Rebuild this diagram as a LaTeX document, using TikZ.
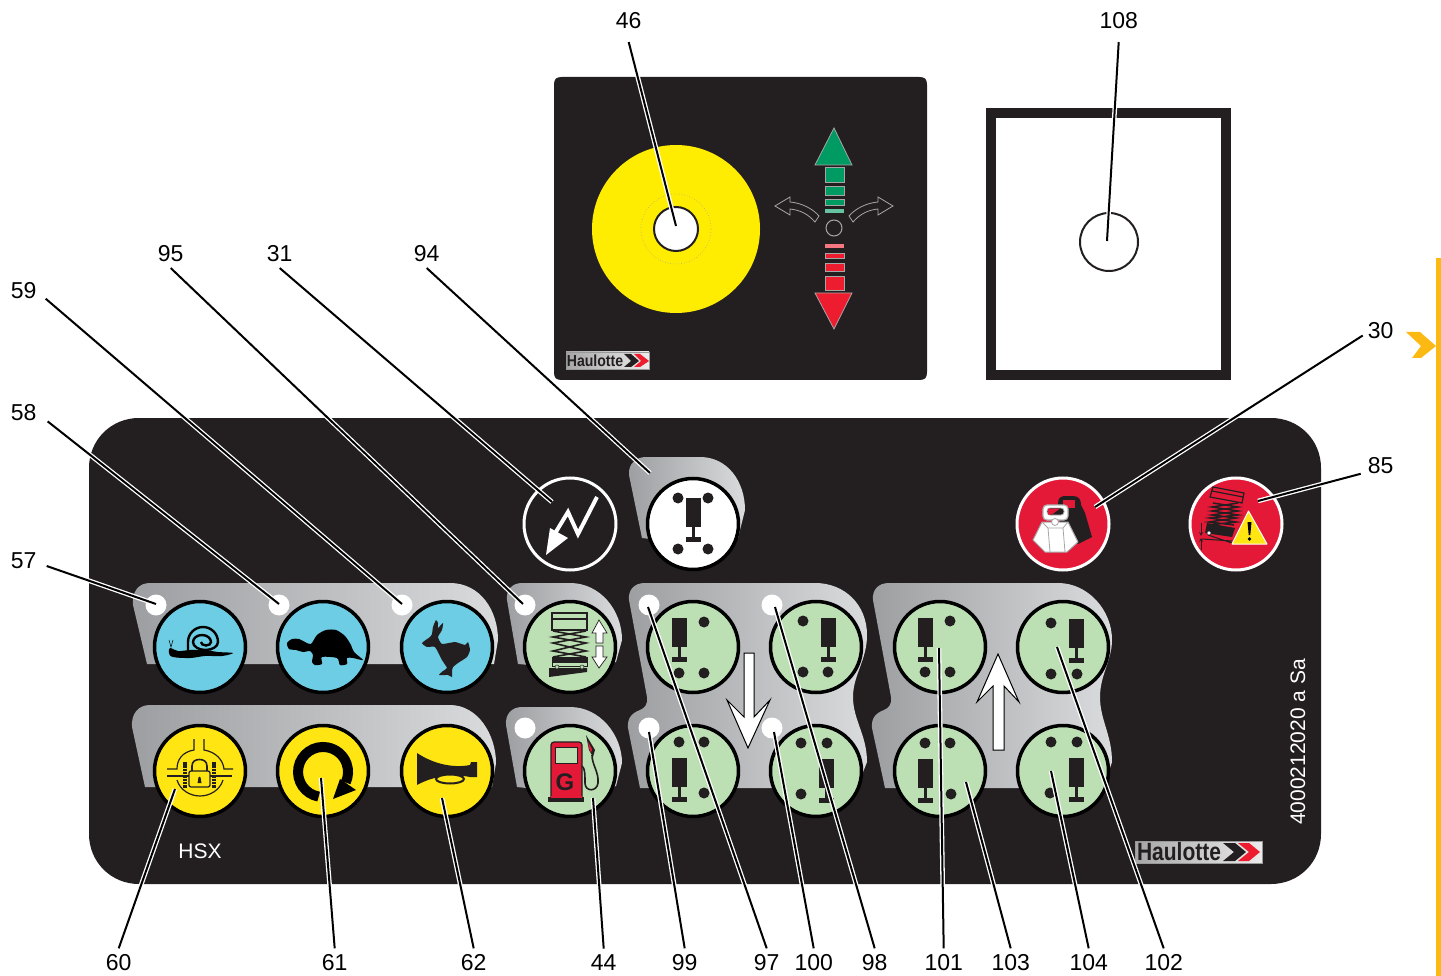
\documentclass[tikz,border=0pt]{standalone}
\usepackage{fontspec}
\setmainfont{Liberation Sans}
\definecolor{panelblack}{HTML}{231F20}
\definecolor{platelo}{HTML}{9C9EA1}
\definecolor{platehi}{HTML}{DADBDD}
\definecolor{skyblue}{HTML}{6DCDE4}
\definecolor{btnyellow}{HTML}{FFE512}
\definecolor{btngreen}{HTML}{BCDFB4}
\definecolor{btnred}{HTML}{E31937}
\definecolor{barorange}{HTML}{FDB913}
\definecolor{arrowgreen}{HTML}{009A63}
\definecolor{arrowred}{HTML}{ED1C2E}
\tikzset{
  num/.style={font=\fontsize{23}{23}\selectfont,inner sep=6pt},
  leader/.style={draw=white,line width=1.3pt,double=black,double distance=2pt},
  plate/.style={left color=platelo,right color=platehi,draw=none},
  btn/.style={circle,draw=black,line width=3.5pt,minimum size=91pt,inner sep=0pt},
  sign/.style={circle,draw=white,line width=3pt,minimum size=92pt,inner sep=0pt},
  led/.style={circle,fill=white,minimum size=21pt,inner sep=0pt},
  dot/.style={fill=panelblack},
  logo/.style={left color=gray!70,right color=gray!15,draw=gray!80!white,line width=.6pt},
  barbox/.style={draw=gray!70,line width=.8pt}
}
% one ramp: pillar left edge, pillar top
\newcommand{\ramp}[2]{
  \fill[panelblack] (#1,#2) rectangle ++(15,29);
  \draw[panelblack,line width=2.4pt] (#1+7.5,#2+29) -- ++(0,10);
  \fill[panelblack] (#1,#2+39) rectangle ++(15,5);
}
\begin{document}
\begin{tikzpicture}[x=1pt,y=-1pt]
  \useasboundingbox (0,0) rectangle (1441,976);

  % side bar of the page
  \fill[barorange] (1435.5,258) rectangle (1441,976);
  \fill[barorange] (1406,332) -- (1420,332) -- (1436,346) -- (1421,358) -- (1412,358) -- (1421,346) -- cycle;

  % top plate
  \fill[panelblack] (554,85) .. controls (554,79) and (556,77) .. (562,77) -- (919,77)
    .. controls (925,77) and (927,79) .. (927,85) -- (927,372)
    .. controls (927,378) and (925,380) .. (919,380) -- (562,380)
    .. controls (556,380) and (554,378) .. (554,372) -- cycle;
  \node[circle,fill=yellow!95!orange,minimum size=168pt,inner sep=0pt] (disc) at (676,229) {};
  \node[circle,draw=gray!60!yellow,dotted,line width=.7pt,minimum size=70pt,inner sep=0pt] (ring) at (676,229) {};
  \node[circle,fill=white,draw=panelblack,line width=2pt,minimum size=44pt,inner sep=0pt] (hole) at (676,229) {};
  % joystick arrows
  \draw[barbox,fill=arrowgreen] (834,128) -- (852,165) -- (815,165) -- cycle;
  \foreach \ya/\yb in {167/182,186/195,199/205}
    \draw[barbox,fill=arrowgreen] (825,\ya) rectangle (844,\yb);
  \fill[arrowgreen!60!white] (825,209) rectangle (844,213);
  \draw[barbox,fill=arrowred] (834,329) -- (852,293) -- (815,293) -- cycle;
  \foreach \ya/\yb in {253/258,263/271,276/290}
    \draw[barbox,fill=arrowred] (825,\ya) rectangle (844,\yb);
  \fill[arrowred!60!white] (825,244) rectangle (844,248);
  \node[circle,draw=gray!70,line width=1pt,minimum size=16pt,inner sep=0pt] (neutral) at (834,228) {};
  \draw[barbox] (775,206) -- (790,197) -- (790,202) .. controls (802,203) and (813,209) .. (819,216)
    -- (815,222) .. controls (808,214) and (800,210) .. (790,209) -- (790,215) -- cycle;
  \draw[barbox] (893,206) -- (878,197) -- (878,202) .. controls (866,203) and (855,209) .. (849,216)
    -- (853,222) .. controls (860,214) and (868,210) .. (878,209) -- (878,215) -- cycle;
  % small logo
  \node[logo,minimum width=83pt,minimum height=17pt,inner sep=0pt] (logotop) at (607.5,360.5) {};
  \node[xscale=.88,font=\bfseries\fontsize{16}{16}\selectfont,text=panelblack,inner sep=0pt] (logotoptext) at (595,360.5) {Haulotte};
  \fill[panelblack] (624,354) -- (631,354) -- (639,361) -- (631,367) -- (624,367) -- (631,361) -- cycle;
  \fill[arrowred] (634,354) -- (640,354) -- (649,361) -- (640,367) -- (634,367) -- (641,361) -- cycle;

  % white square
  \draw[panelblack,line width=10pt] (990.5,113.5) rectangle (1226,375.5);
  \node[circle,draw=panelblack,fill=white,line width=2pt,minimum size=58pt,inner sep=0pt] (slot) at (1109,242) {};

  % main panel
  \fill[panelblack] (139,418) -- (1271,418) .. controls (1299,418) and (1321,440) .. (1321,468)
    -- (1321,834) .. controls (1321,862) and (1299,884) .. (1271,884) -- (139,884)
    .. controls (111,884) and (89,862) .. (89,834) -- (89,468) .. controls (89,440) and (111,418) .. (139,418) -- cycle;

  % grey plates
  \path[plate] (147,664) -- (133,605) .. controls (132,592) and (138,583) .. (150,583) -- (450,583)
    .. controls (480,583) and (498,610) .. (498,640) -- (494,664) -- cycle;
  \path[plate] (145,787) -- (132,727) .. controls (131,714) and (138,705) .. (150,705) -- (450,705)
    .. controls (478,705) and (496,735) .. (496,763) -- (492,787) -- cycle;
  \path[plate] (518,664) -- (507,600) .. controls (506,590) and (512,583) .. (522,583) -- (570,583)
    .. controls (600,583) and (622,610) .. (622,640) -- (616,662) -- (590,670) -- cycle;
  \path[plate] (517,787) -- (506,725) .. controls (505,714) and (512,707) .. (522,707) -- (570,707)
    .. controls (600,707) and (622,735) .. (622,763) -- (616,786) -- (590,795) -- cycle;
  \path[plate] (642,538) -- (629,475) .. controls (628,464) and (636,457) .. (646,457) -- (700,457)
    .. controls (728,457) and (745,482) .. (745,510) -- (738,538) -- (700,545) -- cycle;
  \path[plate] (640,788) -- (628,728) .. controls (627,718) and (632,713) .. (640,710)
    .. controls (645,708) and (648,704) .. (647,697) -- (629,600) .. controls (628,590) and (634,583) .. (645,583)
    -- (815,583) .. controls (845,583) and (867,605) .. (867,635)
    .. controls (867,660) and (853,675) .. (853,697) .. controls (853,720) and (867,735) .. (867,762) -- (860,780) -- (840,788) -- cycle;
  \path[plate] (885,788) -- (872,728) .. controls (871,718) and (876,713) .. (884,710)
    .. controls (889,708) and (892,704) .. (891,697) -- (873,600) .. controls (872,590) and (878,583) .. (889,583)
    -- (1058,583) .. controls (1088,583) and (1112,610) .. (1112,640)
    .. controls (1112,660) and (1100,675) .. (1100,697) .. controls (1100,720) and (1112,735) .. (1112,762) -- (1106,780) -- (1085,788) -- cycle;

  % buttons
  \node[btn,fill=skyblue] (snail) at (200,647) {};
  \node[btn,fill=skyblue] (turtle) at (323,647) {};
  \node[btn,fill=skyblue] (rabbit) at (447,647) {};
  \node[btn,fill=btnyellow] (lock) at (200,771) {};
  \node[btn,fill=btnyellow] (turn) at (323,771) {};
  \node[btn,fill=btnyellow] (horn) at (447,771) {};
  \node[btn,fill=btngreen] (lift) at (570,647) {};
  \node[btn,fill=btngreen] (fuel) at (570,771) {};
  \node[btn,fill=white] (steer) at (693,524) {};
  \node[btn,fill=btngreen] (rama) at (693,647) {};
  \node[btn,fill=btngreen] (ramb) at (816,647) {};
  \node[btn,fill=btngreen] (ramc) at (693,771) {};
  \node[btn,fill=btngreen] (ramd) at (816,771) {};
  \node[btn,fill=btngreen] (rame) at (940,647) {};
  \node[btn,fill=btngreen] (ramf) at (1063,647) {};
  \node[btn,fill=btngreen] (ramg) at (940,771) {};
  \node[btn,fill=btngreen] (ramh) at (1063,771) {};
  \node[sign,fill=panelblack] (power) at (570,524) {};
  \node[sign,fill=btnred] (load) at (1063,524) {};
  \node[sign,fill=btnred] (tilt) at (1236,524) {};

  % leds
  \foreach \n/\x/\y in {a/156/605,b/279/605,c/402/605,d/525/605,e/525/728,f/649/605,g/772/605,h/649/728,i/772/728}
    \node[led] (led\n) at (\x,\y) {};

  % ramp pictos
  \ramp{686}{498} \ramp{672}{618} \ramp{821}{618} \ramp{672}{758} \ramp{819}{759}
  \ramp{918}{618} \ramp{1069}{619} \ramp{918}{759} \ramp{1069}{758}
  \foreach \x/\y in {678/498,708/498,678/549,708/549,704/622,679/673,704/673,803/621,803/672,828/672,
    679/742,704/742,704/793,801/743,827/743,801/794,950/621,925/672,950/672,1051/623,1051/674,1077/674,
    925/743,950/743,951/794,1051/742,1077/742,1050/793}
    \fill[dot] (\x,\y) circle (5.5);

  % snail
  \fill[black] plot[smooth cycle,tension=.6] coordinates {(170,648) (178,651) (190,650) (205,650) (218,652) (233,653) (222,656) (205,656) (190,658) (173,657) (169,653)};
  \draw[black,line width=2.4pt] (188,651) -- (188,642) arc (180:360:15) arc (0:180:12.5 and 8) arc (180:360:9 and 7) arc (0:180:5 and 3.5);
  \draw[black,line width=.5pt] (169,640) -- (171,647) -- (173,640);
  % turtle
  \fill[black] plot[smooth cycle,tension=.45] coordinates {(287,643) (292,639) (299,639) (305,642) (311,644) (317,635) (326,630) (336,630) (345,636) (351,645) (354,652) (363,660) (353,658) (347,658) (347,664) (340,665) (337,658) (322,657) (322,664) (315,665) (312,662) (313,655) (310,651) (303,652) (296,650) (289,649)};
  % rabbit
  \fill[panelblack] plot[smooth cycle,tension=.3] coordinates {(422,643) (430,637) (432,634) (433,627) (436,620) (438,623) (438,628) (443,623) (442,630) (438,637) (442,644) (455,642) (465,645) (468,642) (470,650) (467,657) (458,663) (453,667) (452,670) (452,677) (448,675) (439,675) (443,671) (447,668) (442,660) (435,647) (427,647)};

  % axle lock
  \draw[panelblack,line width=1.2pt] (194,739) -- (194,750) .. controls (182,752) and (177,760) .. (177,769) -- (167,769);
  \draw[panelblack,line width=1.2pt] (204,739) -- (204,750) .. controls (216,752) and (223,760) .. (224,769) -- (233,769);
  \draw[panelblack,line width=1.2pt] (177,780) .. controls (180,790) and (190,796) .. (200,796) .. controls (210,796) and (220,790) .. (223,780);
  \draw[panelblack,line width=2.4pt] (167,776) -- (232,776);
  \draw[panelblack,line width=4.5pt,dash pattern=on 2.5pt off .8pt] (185,762) -- (185,788) (214,762) -- (214,788);
  \draw[panelblack,fill=btnyellow,line width=1.3pt,rounded corners=2pt] (189,771) rectangle (210,787);
  \draw[panelblack,line width=1.6pt] (192,771) -- (192,766) .. controls (192,761) and (196,759.5) .. (199.5,759.5) .. controls (203,759.5) and (207,761) .. (207,766) -- (207,771);
  \fill[panelblack] (199.5,778) circle (1.5) (198.5,778) -- (200.5,778) -- (201.5,783) -- (197.5,783) -- cycle;
  % rotation
  \draw[black,line width=10pt] (318.7,796.6) arc (100:385:25);
  \fill[black] (340,779) -- (356,790) -- (333,799) -- cycle;
  % horn
  \fill[panelblack] (417,753) .. controls (435,765) and (455,768) .. (470,765) -- (471,762) -- (477,762) -- (477,777) -- (470,777)
    .. controls (455,774) and (435,775) .. (417,785) -- cycle;
  \draw[panelblack,fill=btnyellow,line width=2pt] (450,779) ellipse (14 and 4.5);

  % lift picto
  \draw[panelblack,line width=1.2pt] (552,613) rectangle (587,630) (552,619) -- (587,619);
  \draw[panelblack,line width=1.6pt] (553,631) -- (586,637) -- (553,643) -- (586,651) -- (553,657)
    (586,631) -- (553,637) -- (586,643) -- (553,651) -- (586,657);
  \draw[panelblack,line width=1pt,fill=btngreen] (552,657) rectangle (587,666);
  \fill[panelblack] (552,657) rectangle (587,663);
  \fill[panelblack] (549,668) -- (587,668) -- (587,672) -- (549,677) -- cycle;
  \draw[panelblack,fill=btngreen,line width=.5pt] (557,667) circle (2) (582,667) circle (2);
  \draw[panelblack,fill=white,line width=.7pt] (599,620) -- (607,633) -- (603,633) -- (603,643) -- (596,643) -- (596,633) -- (592,633) -- cycle;
  \draw[panelblack,fill=white,line width=.7pt] (599,668) -- (607,657) -- (603,657) -- (603,646) -- (596,646) -- (596,657) -- (592,657) -- cycle;

  % fuel pump
  \draw[panelblack,fill=btnred,line width=1.2pt,rounded corners=3pt] (551,797) -- (551,742) -- (582,742) -- (582,797);
  \fill[panelblack] (548,797) rectangle (584,802);
  \fill[btnred] (551,796) rectangle (582,798);
  \draw[panelblack,fill=btngreen,line width=1pt] (555.5,747) rectangle (577,763);
  \node[font=\bfseries\fontsize{24}{24}\selectfont,text=panelblack,inner sep=0pt] (gas) at (565,782) {G};
  \draw[panelblack,line width=1.6pt] (582,766) .. controls (585,768) and (585,775) .. (585,783)
    .. controls (585,792) and (597,792) .. (598,783) .. controls (599,772) and (592,765) .. (592,755);
  \fill[panelblack] (586,735) -- (595,750) -- (593,757) -- (589,750) -- cycle;
  \fill[btnred] (588,742) -- (592,749) -- (591,753) -- (589,748) -- cycle;

  % power bolt
  \draw[white,line width=4pt] (597,497) -- (578,534) -- (568,512) -- (551,540);
  \fill[white] (546,555) -- (550,528) -- (568,538) -- cycle;

  % weights
  \fill[panelblack] (1060,512) -- (1058,503) .. controls (1058,497) and (1062,496) .. (1066,496) -- (1073,496)
    .. controls (1079,496) and (1081,500) .. (1081,505) -- (1085,513) -- (1092,537) -- (1078,544) -- (1060,530) -- cycle;
  \fill[btnred] (1063,500) rectangle (1075,508);
  \draw[gray!70,fill=white,line width=1pt,line join=round] (1042,522) -- (1068,522) -- (1078,542) -- (1067,552) -- (1045,552) -- (1033,540) -- cycle;
  \draw[gray!70,line width=.8pt] (1042,522) -- (1048,528) -- (1050,552) (1068,522) -- (1063,528) -- (1065,552) (1048,528) -- (1063,528);
  \draw[gray!60,fill=white,line width=1.2pt,rounded corners=4pt] (1043,505) rectangle (1068,520);
  \draw[gray!60,fill=panelblack,line width=.8pt,rounded corners=3pt] (1047,508) rectangle (1064,515);
  \fill[btnred] (1048,508.5) -- (1060,508.5) -- (1052,514.5) -- (1048,514.5) -- cycle;
  \draw[gray!70,fill=white,line width=.8pt] (1055,522) circle (3.5);

  % tilt warning
  \draw[panelblack,line width=1.2pt] (1213,487) -- (1244,493) -- (1242,503) -- (1210,497) -- cycle (1212,491) -- (1243,497);
  \draw[panelblack,line width=1.5pt] (1213,503) -- (1238,507) -- (1212,511) -- (1238,515) -- (1210,518) -- (1236,522) -- (1209,525)
    (1238,503) -- (1212,507) -- (1238,511) -- (1212,515) -- (1236,518) -- (1209,522) -- (1234,525);
  \fill[panelblack] (1207,523) -- (1235,528) -- (1232,537) -- (1205,533) -- cycle;
  \draw[panelblack,line width=1pt] (1202,539) -- (1232,541) (1208,535) -- (1232,543);
  \draw[panelblack,fill=white,line width=.5pt] (1209,533) circle (2);
  \draw[panelblack,line width=.7pt,->,>=stealth] (1201,523) -- (1201,536);
  \draw[panelblack,line width=.7pt,->,>=stealth] (1201,550) -- (1201,538);
  \draw[white,line join=round,fill=btnyellow,line width=1pt] (1248.5,511) -- (1267,544) -- (1232,544) -- cycle;
  \fill[black] (1247.5,522) -- (1251.5,522) -- (1250.3,535) -- (1248.7,535) -- cycle;
  \fill[black] (1249.5,539) circle (1.8);

  % big arrows
  \draw[black,fill=white,line width=1pt,miter limit=10] (748,748) -- (727,700) -- (744,717) -- (744,653) -- (754,653) -- (754,717) -- (770,700) -- cycle;
  \draw[black,fill=white,line width=1pt,miter limit=10] (998,654) -- (977,702) -- (993,686) -- (993,750) -- (1004,750) -- (1004,686) -- (1019,702) -- cycle;

  % panel texts
  \node[text=white,font=\fontsize{21}{21}\selectfont,inner sep=0pt] (hsx) at (200,851) {HSX};
  \node[text=white,rotate=90,font=\fontsize{21}{21}\selectfont,inner sep=0pt] (partno) at (1298,742) {4000212020 a Sa};
  \node[logo,minimum width=127pt,minimum height=22pt,inner sep=0pt] (logomain) at (1198.5,852) {};
  \node[xscale=.84,font=\bfseries\fontsize{25}{25}\selectfont,text=panelblack,inner sep=0pt] (logotext) at (1179,852) {Haulotte};
  \fill[panelblack] (1223,843) -- (1235,843) -- (1246,852) -- (1235,861) -- (1223,861) -- (1234,852) -- cycle;
  \fill[arrowred] (1238,843) -- (1249,843) -- (1260,852) -- (1249,861) -- (1238,861) -- (1249,852) -- cycle;

  % labels
  \node[num,inner sep=13pt] (l46) at (628.7,20.7) {46};
  \node[num,inner sep=13pt] (l108) at (1118.7,20.7) {108};
  \node[num] (l95) at (170.7,253.7) {95};
  \node[num] (l31) at (279.7,253.7) {31};
  \node[num] (l94) at (426.7,253.7) {94};
  \node[num,inner sep=9pt] (l59) at (23.7,290.7) {59};
  \node[num,inner sep=11pt] (l58) at (23.7,412.7) {58};
  \node[num,inner sep=10pt] (l57) at (23.7,560.7) {57};
  \node[num,inner sep=5pt] (l30) at (1380.7,330.7) {30};
  \node[num,inner sep=7pt] (l85) at (1380.7,465.7) {85};
  \node[num] (l60) at (118.7,962.7) {60};
  \node[num] (l61) at (334.7,962.7) {61};
  \node[num] (l62) at (473.7,962.7) {62};
  \node[num] (l44) at (603.7,962.7) {44};
  \node[num] (l99) at (684.7,962.7) {99};
  \node[num] (l97) at (766.7,962.7) {97};
  \node[num] (l100) at (813.7,962.7) {100};
  \node[num] (l98) at (874.7,962.7) {98};
  \node[num] (l101) at (943.7,962.7) {101};
  \node[num] (l103) at (1010.7,962.7) {103};
  \node[num] (l104) at (1088.7,962.7) {104};
  \node[num] (l102) at (1163.7,962.7) {102};

  % leader ends
  \foreach \n/\x/\y in {46/676/226,108/1107/241,95/523/604,31/552/502,94/650/473,59/402/604,58/279/604,57/156/604,
    30/1095/507,85/1258/501,60/175/789,61/321/778,62/442/798,44/593/798,99/649/732,97/648/607,100/774/732,98/775/607,
    101/939/648,103/966/782,104/1051/771,102/1057/647}
    \coordinate (t\n) at (\x,\y);

  \foreach \a/\n in {south/46,south/108,south/95,south/31,south/94,-20/59,-20/58,-13/57,195/30,202/85,
    north/60,north/61,north/62,north/44,north/99,north/97,north/100,north/98,north/101,north/103,north/104,north/102}
    \draw[leader] (l\n.\a) -- (t\n);
\end{tikzpicture}
\end{document}
